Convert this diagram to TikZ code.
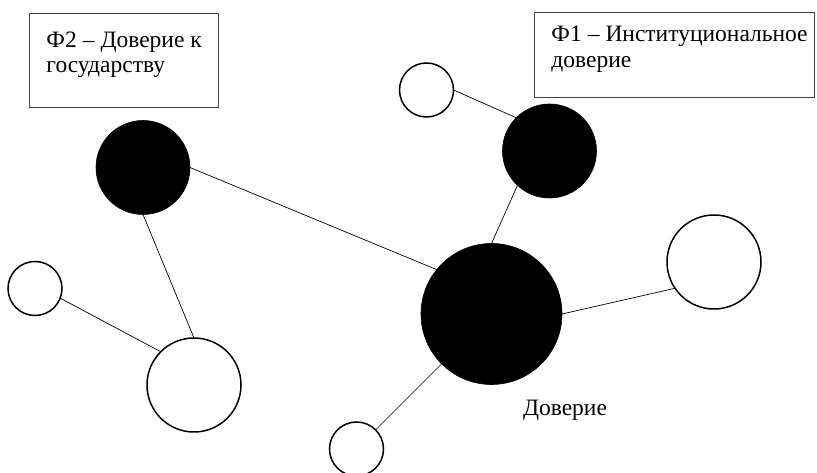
\documentclass[tikz,border=0pt]{standalone}
\usepackage{fontspec}
\setmainfont{Liberation Serif}
\usetikzlibrary{positioning}
\newcommand{\boxpad}{\rule[-16pt]{0pt}{0pt}}

\begin{document}
\begin{tikzpicture}[x=1pt,y=1pt,semithick,
    font=\fontsize{23.5}{25.5}\selectfont,
    factor/.style={circle,fill=black,draw=black,inner sep=0pt,outer sep=0pt},
    item/.style={circle,fill=white,draw=black,line width=1.5pt,inner sep=0pt,outer sep=0pt},
    infobox/.style={rectangle,draw=black!75,line width=0.9pt,anchor=north west,
      align=left,inner xsep=17pt,inner ysep=0pt,
      execute at begin node={\spaceskip=6pt\relax}},
    link/.style={line width=0.7pt}]
    \useasboundingbox (0,0) rectangle (817,473);
    % factors
    \node[factor,minimum size=94pt] (F2) at (143,305.5) {};
    \node[factor,minimum size=94pt] (F1) at (549.5,322) {};
    \node[factor,minimum size=141pt] (D) at (491.5,159) {};
    % items
    \node[item,minimum size=54pt] (i1) at (426.5,383) {};
    \node[item,minimum size=94pt] (i2) at (714,211) {};
    \node[item,minimum size=54pt] (i3) at (35,184.5) {};
    \node[item,minimum size=94pt] (i4) at (194,88) {};
    \node[item,minimum size=54pt] (i5) at (356.5,24) {};
    % captions
    \node[infobox,text width=155pt,minimum height=94pt] (cap2) at (29,460)
      {\mbox{Ф2 – Доверие к}\\\mbox{государству}\boxpad};
    \node[infobox,text width=246pt,minimum height=85pt] (cap1) at (534,461)
      {\mbox{Ф1 – Институциональное}\\\mbox{доверие}\boxpad};
    \node[anchor=base] (lblD) at (565,57) {Доверие};
    \path[link]
    (F2.0) edge (D.141)
    (F2.south) edge (i4.north)
    (i3.-21) edge (i4.135)
    (i1.0) edge (F1.135)
    (F1.227) edge (D.north)
    (D.0) edge (i2.214)
    (D.225) edge (i5.45);
\end{tikzpicture}
\end{document}
